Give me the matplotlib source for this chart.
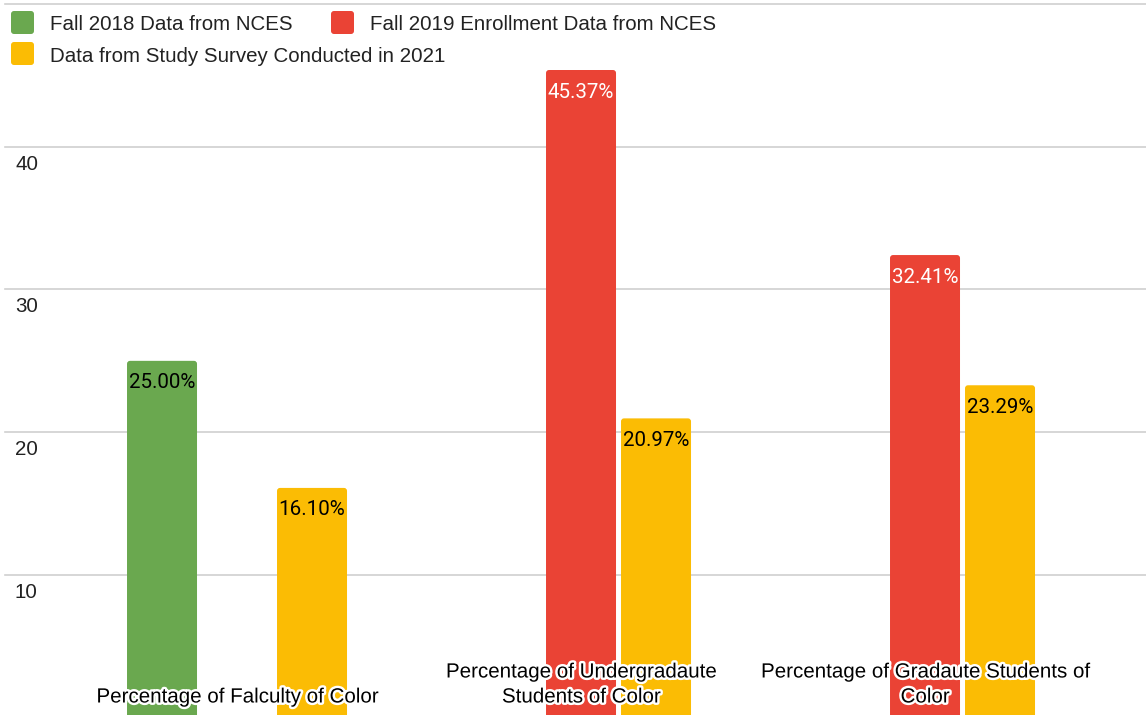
import numpy as np
import matplotlib
matplotlib.use("Agg")
import matplotlib.pyplot as plt
from matplotlib.patches import FancyBboxPatch
from matplotlib.transforms import IdentityTransform, offset_copy, blended_transform_factory
import matplotlib.patheffects as pe

# ---- data ----
categories = ["Percentage of Falculty of Color",
              "Percentage of Undergradaute\nStudents of Color",
              "Percentage of Gradaute Students of\nColor"]
series_names = ["Fall 2018 Data from NCES",
                "Fall 2019 Enrollment Data from NCES",
                "Data from Study Survey Conducted in 2021"]
fall2018 = [25.00, np.nan, np.nan]
fall2019 = [np.nan, 45.37, 32.41]
survey2021 = [16.10, 20.97, 23.29]
y_ticks = [10, 20, 30, 40, 50]
y_tick_labels = ["10", "20", "30", "40", ""]

colors = ["#6aa84f", "#ea4335", "#fbbc04"]
label_colors = ["#000000", "#ffffff", "#000000"]

W, H = 1146, 715
fig = plt.figure(figsize=(W / 100, H / 100), dpi=100)
ax = fig.add_axes([0, 0, 1, 1])
ax.set_xlim(-0.6890, 2.6424)
ax.set_ylim(0.196, 50.273)
ax.axis("off")

SANS = ["Liberation Sans", "DejaVu Sans"]
ROBOTO = ["Roboto", "DejaVu Sans"]
FS = 14.8

# gridlines
for v in y_ticks:
    ax.axhline(v, xmin=5 / W, xmax=1, color="#d0d0d0", lw=1.2, zorder=0)
# y tick labels
trans = blended_transform_factory(ax.transAxes, ax.transData)
trans_off = offset_copy(trans, fig=fig, y=-23, units="dots")
for v, lab in zip(y_ticks, y_tick_labels):
    if lab:
        ax.text(15 / W, v, lab, transform=trans_off, ha="left", va="baseline",
                fontsize=FS, family=SANS, color="#222222")

x = np.arange(len(categories))
slot = 75 / 344
bw = 70 / 344
all_series = [fall2018, fall2019, survey2021]
px_x = 344.0  # px per x unit
px_y = 14.277  # px per y unit
r = 3 / px_x
for i, (vals, col, lc) in enumerate(zip(all_series, colors, label_colors)):
    pos = x + (i - 1) * slot
    bars = ax.bar(pos, np.nan_to_num(vals), width=bw, color=col, zorder=2)
    for b, v in zip(bars, vals):
        b.set_visible(False)
        if np.isnan(v):
            continue
        fb = FancyBboxPatch((b.get_x(), b.get_y()), b.get_width(), b.get_height(),
                            boxstyle=f"round,pad=0,rounding_size={r}",
                            mutation_aspect=px_x / px_y,
                            facecolor=col, edgecolor="none", zorder=2)
        ax.add_patch(fb)
        ax.annotate(f"{v:.2f}%", (b.get_x() + b.get_width() / 2, v),
                    xytext=(0, -27.5), textcoords="offset pixels",
                    ha="center", va="baseline", fontsize=FS, family=ROBOTO,
                    color=lc, zorder=4)

# category labels
for xi, cat in zip(x, categories):
    ax.text(xi, (H - 706.5) / H, cat, transform=blended_transform_factory(ax.transData, ax.transAxes),
            ha="center", va="bottom", fontsize=FS, family=SANS, color="#000000",
            linespacing=1.4, zorder=5,
            path_effects=[pe.withStroke(linewidth=3.5, foreground="white")])

# legend
legend_items = [(11, 11, 50, 30), (331, 11, 370, 30), (11, 42, 50, 61.7)]
for (sx, sy, tx, ty), name, col in zip(legend_items, series_names, colors):
    sq = FancyBboxPatch((sx, H - sy - 23), 23, 23,
                        boxstyle="round,pad=0,rounding_size=3",
                        facecolor=col, edgecolor="none", transform=IdentityTransform())
    fig.add_artist(sq)
    fig.text(tx / W, (H - ty) / H, name, ha="left", va="baseline",
             fontsize=FS, family=SANS, color="#222222")

fig.savefig("out.png", dpi=100, facecolor="white")
